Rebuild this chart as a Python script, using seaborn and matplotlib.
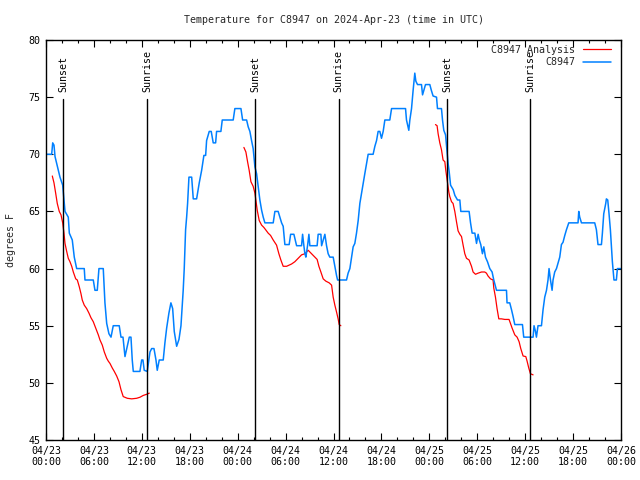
import matplotlib
matplotlib.use("Agg")
import matplotlib.pyplot as plt
import matplotlib.dates as mdates
import seaborn as sns
import pandas as pd
import numpy as np

# ---------------- data ----------------
start = pd.Timestamp("2024-04-23 00:00")

# Observations (C8947): hours since start, temperature (F)
obs_hours = [0.09, 0.71, 0.84, 1.0, 1.13, 1.75, 2.09, 2.38, 2.79, 2.92, 3.29, 3.54, 3.84, 4.79, 4.88,
             5.92, 6.13, 6.42, 6.63, 7.17, 7.38, 7.6, 7.88, 8.14, 8.42, 9.17, 9.39, 9.64, 9.89, 10.18,
             10.43, 10.64, 10.8, 10.93, 11.76, 11.98, 12.14, 12.3, 12.68, 13.02, 13.23, 13.52, 13.77,
             13.93, 14.18, 14.68, 14.89, 15.11, 15.39, 15.64, 15.86, 16.06, 16.36, 16.65, 16.9, 17.06,
             17.18, 17.31, 17.48, 17.61, 17.73, 17.9, 18.24, 18.44, 18.86, 19.19, 19.49, 19.77, 19.99,
             20.11, 20.44, 20.69, 20.94, 21.24, 21.36, 21.9, 22.07, 23.44, 23.65, 24.41, 24.62, 25.12,
             25.32, 25.53, 25.74, 25.94, 26.16, 26.37, 26.57, 26.78, 27.0, 27.2, 27.41, 28.45, 28.66,
             29.07, 29.29, 29.5, 29.7, 29.91, 30.45, 30.63, 31.04, 31.38, 32.0, 32.13, 32.29, 32.42,
             32.54, 32.75, 32.92, 33.04, 33.95, 34.08, 34.42, 34.51, 34.92, 35.13, 35.33, 35.54, 35.96,
             36.17, 36.38, 36.51, 37.63, 37.83, 38.05, 38.26, 38.46, 38.67, 38.88, 39.09, 39.3, 39.51,
             39.71, 39.92, 40.14, 40.34, 40.96, 41.18, 41.39, 41.59, 41.8, 42.01, 42.22, 42.43, 43.05,
             43.27, 45.02, 45.14, 45.43, 45.56, 45.77, 45.97, 46.18, 46.31, 46.52, 47.02, 47.15, 47.31,
             47.52, 48.06, 48.25, 48.47, 48.9, 49.02, 49.52, 49.65, 49.81, 50.03, 50.15, 50.28, 50.35,
             50.48, 50.66, 50.99, 51.2, 51.53, 51.82, 51.94, 52.98, 53.16, 53.36, 53.7, 53.91, 54.11,
             54.26, 54.44, 54.65, 54.82, 55.03, 55.28, 55.57, 55.86, 56.07, 56.41, 57.66, 57.73, 58.07,
             58.29, 58.49, 58.7, 59.66, 59.82, 60.99, 61.11, 61.29, 61.41, 61.61, 62.04, 62.24, 62.45,
             62.67, 62.86, 62.99, 63.17, 63.37, 63.49, 63.7, 63.92, 64.12, 64.33, 64.54, 64.74, 64.96,
             65.17, 65.46, 66.62, 66.71, 66.83, 67.05, 68.71, 68.92, 69.12, 69.55, 69.67, 69.84, 70.09,
             70.17, 70.34, 70.5, 70.67, 70.92, 71.12, 71.42, 71.55, 71.96]
obs_temps = [70.0, 70.0, 71.0, 70.8, 69.8, 68.0, 67.3, 65.0, 64.5, 63.1, 62.5, 61.0, 60.0, 60.0, 59.0,
             59.0, 58.1, 58.1, 60.0, 60.0, 57.0, 55.2, 54.3, 54.0, 55.0, 55.0, 54.0, 54.0, 52.3, 53.2,
             54.0, 54.0, 52.0, 51.0, 51.0, 52.0, 52.0, 51.1, 51.0, 52.7, 53.0, 53.0, 52.0,
             51.1, 52.0, 52.0, 53.5, 54.8, 56.1, 57.0, 56.5, 54.5, 53.2, 53.8, 55.0, 56.7,
             58.1, 60.0, 63.4, 64.5, 65.7, 68.0, 68.0, 66.1, 66.1, 67.5, 68.6, 69.9, 69.9,
             71.2, 72.0, 72.0, 71.0, 71.0, 72.0, 72.0, 73.0, 73.0, 74.0, 74.0, 73.0, 73.0,
             72.4, 72.0, 71.2, 70.5, 68.9, 68.3, 67.2, 66.0, 65.1, 64.5, 64.0, 64.0, 65.0,
             65.0, 64.5, 64.0, 63.7, 62.1, 62.1, 63.0, 63.0, 62.0, 62.0, 63.0, 62.0, 61.3,
             61.0, 62.0, 63.0, 62.0, 62.0, 63.0, 63.0, 62.0, 63.0, 62.0, 61.3, 61.0, 61.0,
             60.2, 59.4, 59.0, 59.0, 59.6, 60.0, 61.0, 61.9, 62.2, 63.1, 64.2, 65.7, 66.6,
             67.5, 68.3, 69.2, 70.0, 70.0, 70.7, 71.2, 72.0, 72.0, 71.4, 72.0, 73.0, 73.0,
             74.0, 74.0, 73.0, 72.1, 73.0, 74.0, 75.6, 77.1, 76.4, 76.1, 76.1, 75.2, 75.6,
             76.1, 76.1, 75.6, 75.1, 75.0, 74.0, 74.0, 73.0, 72.1, 71.7, 70.8, 69.9, 69.2,
             68.5, 67.3, 66.9, 66.4, 66.0, 66.0, 65.0, 65.0, 64.0, 63.1, 63.1, 62.2, 63.0,
             62.5, 62.1, 61.3, 61.9, 61.0, 60.6, 60.0, 59.7, 59.0, 58.1, 58.1, 57.0, 57.0,
             56.4, 55.8, 55.1, 55.1, 54.0, 54.0, 55.0, 54.5, 54.0, 55.0, 55.0, 56.4, 57.5,
             58.1, 59.0, 60.0, 59.0, 58.1, 59.0, 59.7, 60.0, 60.5, 61.0, 62.1, 62.3, 62.9,
             63.4, 64.0, 64.0, 65.0, 64.5, 64.0, 64.0, 63.4, 62.1, 62.1, 63.1, 64.8, 65.7,
             66.1, 66.0, 64.8, 63.4, 60.6, 59.0, 59.0, 60.0, 60.0]

# Analysis (C8947 Analysis): three overnight segments
ana1_hours = [0.79, 1.0, 1.21, 1.41, 1.66, 1.88, 2.09, 2.25, 2.38, 2.59, 2.79, 3.0, 3.22, 3.42, 3.72,
              3.92, 4.17, 4.38, 4.54, 4.79, 5.09, 5.38, 5.63, 5.92, 6.22, 6.55, 6.76, 7.05, 7.3, 7.6,
              7.8, 8.01, 8.3, 8.55, 8.85, 9.14, 9.39, 9.67, 10.18, 10.73, 11.35, 11.76, 12.18, 12.6, 12.93]
ana1_temps = [68.1, 67.5, 66.6, 65.7, 65.0, 64.7, 64.0, 63.1, 62.2, 61.5, 60.9, 60.6, 60.2, 59.7, 59.1,
              59.0, 58.4, 57.8, 57.25, 56.8, 56.5, 56.1, 55.7, 55.35, 54.8, 54.2, 53.75, 53.3, 52.7, 52.15,
              51.9, 51.7, 51.3, 51.0, 50.6, 50.1, 49.4, 48.8, 48.65, 48.6, 48.65, 48.74, 48.9, 49.0, 49.1]
ana2_hours = [24.78, 25.03, 25.24, 25.44, 25.66, 25.94, 26.16, 26.45, 26.7, 27.0, 27.28, 27.5, 27.82,
              28.12, 28.45, 28.87, 29.16, 29.41, 29.7, 30.13, 30.75, 31.16, 31.58, 32.0, 32.42, 32.83,
              33.25, 33.67, 33.95, 34.17, 34.42, 34.71, 35.04, 35.46, 35.76, 35.96, 36.17, 36.38, 36.58,
              36.71, 36.92]
ana2_temps = [70.6, 70.2, 69.35, 68.6, 67.6, 67.2, 66.6, 65.1, 64.2, 63.8, 63.6, 63.4, 63.1,
              62.9, 62.5, 62.05, 61.3, 60.75, 60.2, 60.2, 60.4, 60.6, 60.9, 61.2, 61.3, 61.6,
              61.3, 61.0, 60.8, 60.2, 59.7, 59.1, 58.9, 58.75, 58.55, 57.5, 56.8, 56.2, 55.6,
              55.1, 55.0]
ana3_hours = [48.77, 48.97, 49.1, 49.31, 49.52, 49.72, 49.94, 50.06, 50.23, 50.44, 50.56, 50.78, 50.97,
              51.19, 51.4, 51.6, 51.82, 52.03, 52.23, 52.44, 52.65, 52.98, 53.28, 53.48, 53.78, 54.11,
              54.53, 54.94, 55.15, 55.35, 55.66, 55.98, 56.07, 56.28, 56.48, 56.7, 57.03, 57.45, 57.98,
              58.16, 58.36, 58.7, 58.99, 59.24, 59.45, 59.74, 60.08, 60.24, 60.45, 60.66, 60.99]
ana3_temps = [72.6, 72.5, 71.8, 71.0, 70.4, 69.5, 69.35, 68.6, 67.75, 66.7, 66.3, 65.85, 65.7,
              65.0, 64.1, 63.3, 63.0, 62.8, 62.05, 61.3, 60.9, 60.75, 60.2, 59.7, 59.5, 59.6,
              59.7, 59.7, 59.6, 59.35, 59.1, 59.0, 58.3, 57.5, 56.5, 55.6, 55.6, 55.55, 55.55,
              55.2, 54.8, 54.2, 54.0, 53.6, 53.0, 52.35, 52.3, 51.9, 51.3, 50.8, 50.7]

sunset_times = ["2024-04-23 02:10", "2024-04-24 02:11", "2024-04-25 02:12"]
sunrise_times = ["2024-04-23 12:41", "2024-04-24 12:40", "2024-04-25 12:38"]

title = "Temperature for C8947 on 2024-Apr-23 (time in UTC)"
ylabel = "degrees F"
obs_label = "C8947"
ana_label = "C8947 Analysis"

# ---------------- build tables ----------------
obs_df = pd.DataFrame({"time": start + pd.to_timedelta(obs_hours, unit="h"), "temp": obs_temps})
ana_segments = [(ana1_hours, ana1_temps), (ana2_hours, ana2_temps), (ana3_hours, ana3_temps)]

# ---------------- style ----------------
sns.set_theme(style="ticks")
plt.rcParams["font.family"] = ["DejaVu Sans Mono"]
plt.rcParams["font.size"] = 7.2
FS = 7.2

fig = plt.figure(figsize=(6.4, 4.8), dpi=100)
ax = fig.add_axes([46 / 640, 1 - 440 / 480, 575 / 640, 400 / 480])
ax.set_facecolor("white")

RED = "#ff0000"
BLUE = "#0080ff"

for i, (h, t) in enumerate(ana_segments):
    seg_df = pd.DataFrame({"time": start + pd.to_timedelta(h, unit="h"), "temp": t})
    sns.lineplot(data=seg_df, x="time", y="temp", estimator=None, sort=False,
                 color=RED, lw=0.9, ax=ax, label=ana_label if i == 0 else "_nolegend_")
sns.lineplot(data=obs_df, x="time", y="temp", estimator=None, sort=False,
             color=BLUE, lw=1.1, ax=ax, label=obs_label)

for t in sunset_times:
    ts = pd.Timestamp(t)
    ax.axvline(ts, ymin=0, ymax=0.8525, color="black", lw=1.0)
    ax.text(ts, 0.87, "Sunset", transform=ax.get_xaxis_transform(), rotation=90,
            ha="center", va="bottom", fontsize=FS, color="black")
for t in sunrise_times:
    ts = pd.Timestamp(t)
    ax.axvline(ts, ymin=0, ymax=0.8525, color="black", lw=1.0)
    ax.text(ts, 0.87, "Sunrise", transform=ax.get_xaxis_transform(), rotation=90,
            ha="center", va="bottom", fontsize=FS, color="black")

ax.set_xlim(start, start + pd.Timedelta(hours=72))
ax.set_ylim(45, 80)
ax.set_yticks(np.arange(45, 81, 5))
ax.xaxis.set_major_locator(mdates.HourLocator(byhour=[0, 6, 12, 18]))
ax.xaxis.set_minor_locator(mdates.HourLocator(interval=2))
ax.xaxis.set_major_formatter(mdates.DateFormatter("%m/%d\n%H:%M"))

ax.tick_params(which="both", direction="in", top=True, right=True, colors="black",
               labelsize=FS, pad=4)
ax.tick_params(which="major", length=5, width=0.8)
ax.tick_params(which="minor", length=2.5, width=0.8)
for s in ax.spines.values():
    s.set_visible(True)
    s.set_color("black")
    s.set_linewidth(1.0)

ax.set_xlabel("")
ax.set_ylabel(ylabel, fontsize=FS)
ax.yaxis.set_label_coords(-0.052, 0.5)
ax.set_title(title, fontsize=FS, pad=12)

handles, labels = ax.get_legend_handles_labels()
leg = ax.legend(handles, labels, loc="upper right", bbox_to_anchor=(0.992, 1.0),
                frameon=False, markerfirst=False, fontsize=FS, handlelength=2.8,
                handletextpad=0.8, labelspacing=0.25, borderaxespad=0.1)

fig.savefig("out.png", dpi=100, facecolor="white")
